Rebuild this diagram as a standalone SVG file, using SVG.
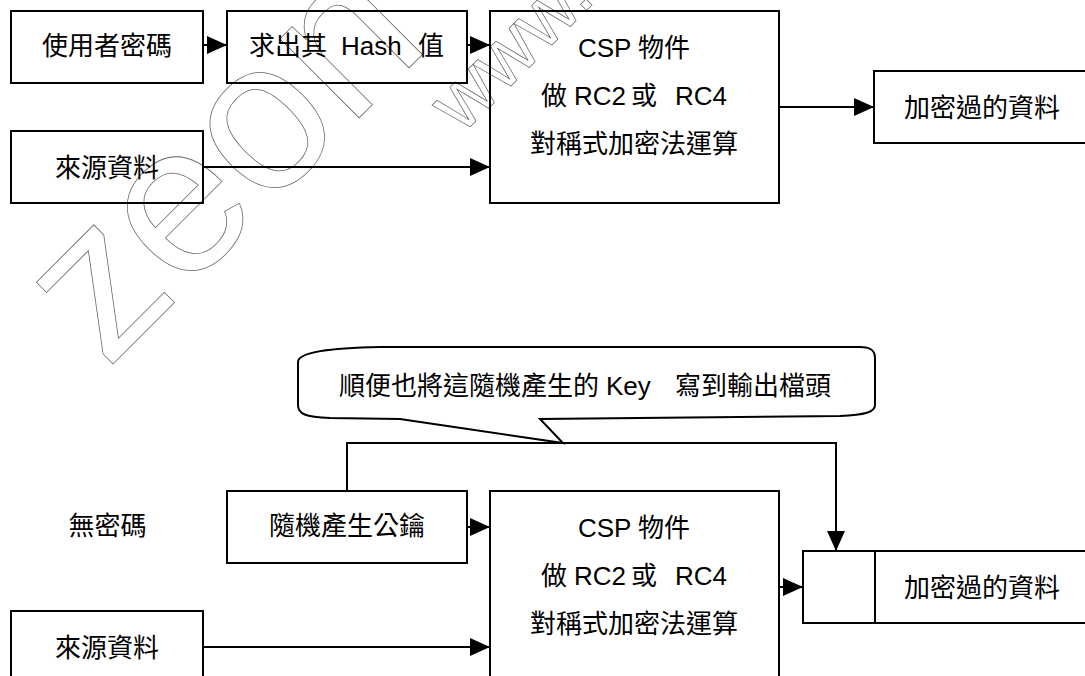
<svg xmlns="http://www.w3.org/2000/svg" width="1085" height="676" viewBox="0 0 1085 676">
<style>
.box{fill:none;stroke:#000;stroke-width:2}
.ln{fill:none;stroke:#000;stroke-width:2}
.arr{fill:none;stroke:#000;stroke-width:2;marker-end:url(#ah)}
.t{font-family:"Liberation Sans","Noto Sans CJK TC",sans-serif;font-size:26px;fill:#000}
.m{text-anchor:middle}
.wm{font-family:"Liberation Sans",Arial,sans-serif;fill:none;stroke:#666;stroke-width:0.75}
</style>
<defs>
<marker id="ah" markerUnits="userSpaceOnUse" markerWidth="20" markerHeight="18" refX="20" refY="9" orient="auto">
<path d="M0,0 L20,9 L0,18 Z" fill="#000"/>
</marker>
</defs>
<rect width="1085" height="676" fill="#fff"/>

<g id="watermark">
<text class="wm" font-size="212" transform="translate(107,370) rotate(-45)">zeon</text>
<text class="wm" font-size="80" transform="translate(462,135) rotate(-45)">www.zeon</text>
</g>

<g id="connectors">
<line class="arr" x1="203" y1="45" x2="227" y2="45"/>
<line class="arr" x1="467" y1="45" x2="490" y2="45"/>
<line class="arr" x1="203" y1="167" x2="490" y2="167"/>
<line class="arr" x1="779" y1="107" x2="874" y2="107"/>
<line class="arr" x1="467" y1="527" x2="490" y2="527"/>
<line class="arr" x1="203" y1="647" x2="490" y2="647"/>
<line class="arr" x1="779" y1="587" x2="803" y2="587"/>
<polyline class="arr" points="347,491 347,443 836,443 836,551"/>
</g>

<g id="n-password">
<rect class="box" x="11" y="11" width="192" height="72"/>
<text class="t m" x="107" y="55">使用者密碼</text>
</g>
<g id="n-hash">
<rect class="box" x="227" y="11" width="240" height="72"/>
<text class="t" y="55"><tspan x="249">求出其</tspan><tspan x="341">Hash</tspan><tspan x="418">值</tspan></text>
</g>
<g id="n-source1">
<rect class="box" x="11" y="131" width="192" height="72"/>
<text class="t m" x="107" y="177">來源資料</text>
</g>
<g id="n-csp1">
<rect class="box" x="490" y="11" width="289" height="192"/>
<text class="t m" x="634" y="57">CSP 物件</text>
<text class="t" y="105"><tspan x="541">做</tspan><tspan x="574">RC2</tspan><tspan x="631">或</tspan><tspan x="675">RC4</tspan></text>
<text class="t m" x="634" y="153">對稱式加密法運算</text>
</g>
<g id="n-out1">
<rect class="box" x="874" y="71" width="216" height="72"/>
<text class="t m" x="982" y="117">加密過的資料</text>
</g>

<g id="n-callout">
<path class="ln" d="M298,362 C298,352 330,348 380,347 L860,347 C870,347 875,350 875,358 L875,405 C875,412 865,415 840,416 L540,419 L563,443 L400,419 L330,418 C305,417 298,414 298,405 Z"/>
<text class="t" y="395"><tspan x="339">順便也將這隨機產生的</tspan><tspan x="606">Key</tspan><tspan x="675">寫到輸出檔頭</tspan></text>
</g>
<g id="n-nopass">
<text class="t m" x="107.5" y="535">無密碼</text>
</g>
<g id="n-randkey">
<rect class="box" x="227" y="491" width="240" height="72"/>
<text class="t m" x="347" y="535">隨機產生公鑰</text>
</g>
<g id="n-csp2">
<rect class="box" x="490" y="491" width="289" height="192"/>
<text class="t m" x="634" y="537">CSP 物件</text>
<text class="t" y="585"><tspan x="541">做</tspan><tspan x="574">RC2</tspan><tspan x="631">或</tspan><tspan x="675">RC4</tspan></text>
<text class="t m" x="634" y="633">對稱式加密法運算</text>
</g>
<g id="n-source2">
<rect class="box" x="11" y="611" width="192" height="72"/>
<text class="t m" x="107" y="657">來源資料</text>
</g>
<g id="n-out2">
<rect class="box" x="803" y="551" width="287" height="72"/>
<line class="ln" x1="875" y1="551" x2="875" y2="623"/>
<text class="t m" x="982" y="597">加密過的資料</text>
</g>
</svg>
